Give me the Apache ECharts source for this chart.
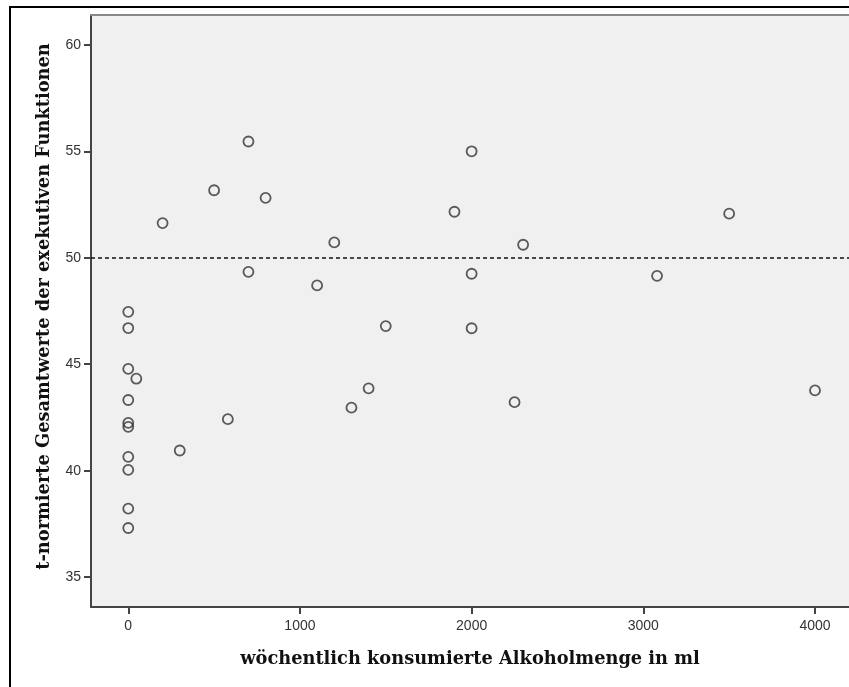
<!DOCTYPE html>
<html>
<head>
<meta charset="utf-8">
<script src="https://cdn.jsdelivr.net/npm/echarts@6/dist/echarts.min.js"></script>
<style>html,body{margin:0;padding:0;background:#fff}#c{width:849px;height:687px}</style>
</head>
<body>
<div id="c"></div>
<script>
const alcoholMl = [0,0,0,0,0,0,0,0,0,0,47,300,580,200,500,800,700,700,1200,1100,1500,1400,1300,2250,2000,1900,2300,2000,2000,3080,3500,4000];
const tScores   = [47.46,46.7,44.78,43.32,42.25,42.06,40.65,40.04,38.22,37.31,44.32,40.95,42.42,51.63,53.17,52.81,49.34,55.46,50.72,48.70,46.79,43.87,42.96,43.22,55.0,52.16,50.61,49.25,46.69,49.15,52.07,43.77];
const xTicks = [0,1000,2000,3000,4000];
const yTicks = [35,40,45,50,55,60];
const referenceLine = 50;
const xTitle = 'wöchentlich konsumierte Alkoholmenge in ml';
const yTitle = 't-normierte Gesamtwerte der exekutiven Funktionen';

const chart = echarts.init(document.getElementById('c'), null, {renderer:'canvas'});
const pts = alcoholMl.map((x,i)=>[x,tScores[i]]);
const titleFont = {fontFamily:'DejaVu Serif', fontWeight:'bold', fontSize:17.8, color:'#111'};
const tickFont = {fontFamily:'Liberation Sans', fontSize:14, color:'#333'};
chart.setOption({
  animation:false,
  backgroundColor:'#fff',
  graphic:[{type:'rect', shape:{x:10,y:7,width:900,height:720}, style:{fill:'none', stroke:'#000', lineWidth:2}, z:-10}],
  grid:{left:91, top:15, right:0, bottom:80, show:true, backgroundColor:'#f0f0f0', borderWidth:0},
  xAxis:[{
    type:'value', min:-217, max:4198,
    splitLine:{show:false},
    axisLine:{show:true, onZero:false, lineStyle:{color:'#444', width:2}},
    axisTick:{show:true, customValues:xTicks, length:7, lineStyle:{color:'#444', width:2}},
    axisLabel:Object.assign({customValues:xTicks, margin:12, formatter:v=>String(v)}, tickFont),
    name:xTitle, nameLocation:'middle', nameGap:43, nameTextStyle:titleFont
  },{
    type:'value', position:'top', min:-217, max:4198,
    splitLine:{show:false}, axisTick:{show:false}, axisLabel:{show:false},
    axisLine:{show:true, onZero:false, lineStyle:{color:'#888', width:2}}
  }],
  yAxis:{
    type:'value', min:33.6, max:61.4,
    splitLine:{show:false},
    axisLine:{show:true, onZero:false, lineStyle:{color:'#444', width:2}},
    axisTick:{show:true, customValues:yTicks, length:7, lineStyle:{color:'#444', width:2}},
    axisLabel:Object.assign({customValues:yTicks, margin:10}, tickFont),
    name:yTitle, nameLocation:'middle', nameGap:38,
    nameTextStyle:Object.assign({padding:[0,0,0,9]}, titleFont)
  },
  series:[{
    type:'scatter', data:pts, symbol:'circle', symbolSize:10,
    itemStyle:{color:'rgba(0,0,0,0)', borderColor:'#333', borderWidth:1.8},
    markLine:{silent:true, symbol:'none', label:{show:false},
      lineStyle:{color:'#111', type:[4,3], width:1.5},
      data:[{yAxis:referenceLine}]}
  }]
});
</script>
</body>
</html>
